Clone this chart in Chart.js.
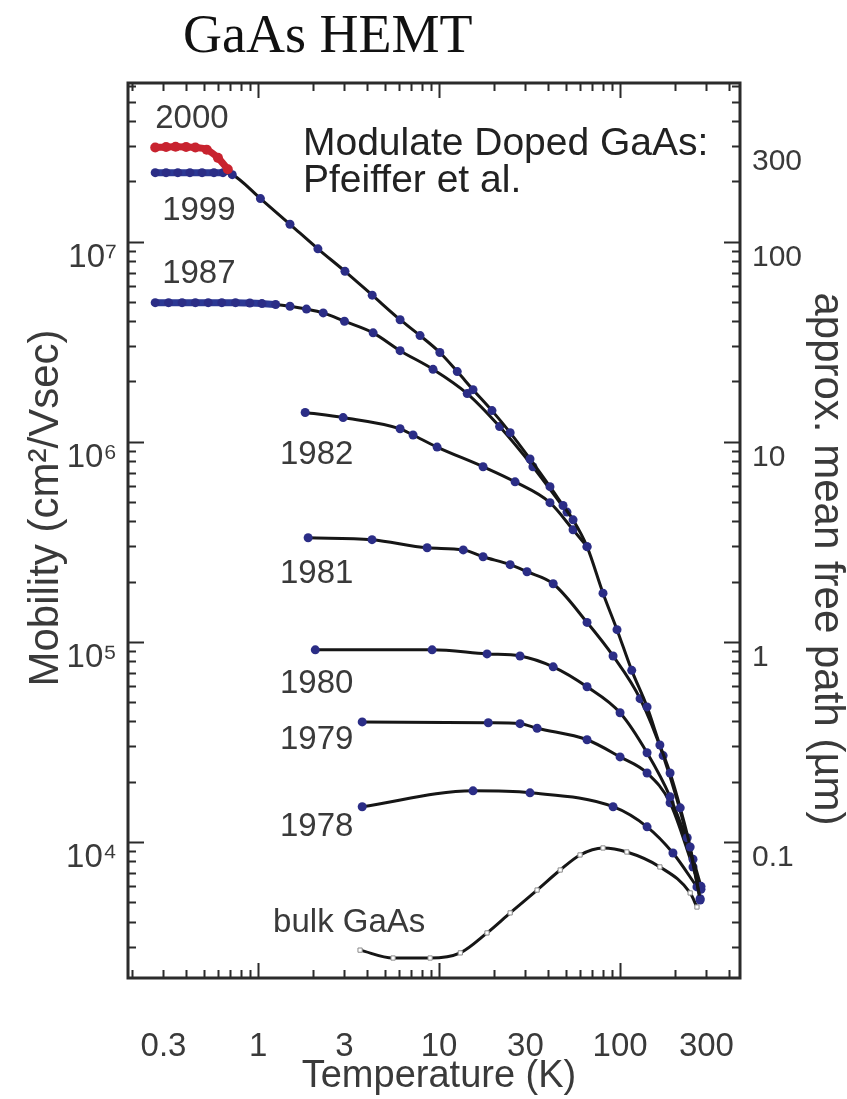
<!DOCTYPE html>
<html>
<head>
<meta charset="utf-8">
<title>GaAs HEMT mobility</title>
<script src="https://cdn.jsdelivr.net/npm/chart.js@4.4.1/dist/chart.umd.min.js"></script>
<style>
  html, body { margin: 0; padding: 0; background: #fff; }
  canvas { display: block; }
</style>
</head>
<body>
<canvas id="mobility" width="847" height="1099"></canvas>
<script>
// temperatures (K) and mobilities (cm^2/Vs) per sample generation
const t2000 = [0.27, 0.31, 0.35, 0.40, 0.45, 0.52, 0.60, 0.68];
const m2000 = [2.95e7, 2.97e7, 2.98e7, 2.97e7, 2.95e7, 2.88e7, 2.62e7, 2.3e7];

const t1999 = [0.27, 0.31, 0.36, 0.42, 0.49, 0.57, 0.64, 0.72, 1.03, 1.5, 2.14, 3.02, 4.27, 6.09, 7.85,
               10.1, 12.6, 15.4, 19.6, 24.7, 31.8, 41, 48.4, 55, 65.7, 80.5, 96.2, 116, 141, 166, 189, 215, 244, 277];
const m1999 = [2.21e7, 2.21e7, 2.21e7, 2.21e7, 2.21e7, 2.21e7, 2.21e7, 2.16e7, 1.64e7, 1.22e7, 9.2e6, 7.1e6, 5.4e6, 4.07e6, 3.39e6,
               2.79e6, 2.24e6, 1.82e6, 1.43e6, 1.11e6, 8.2e5, 5.96e5, 4.8e5, 4.07e5, 2.99e5, 1.75e5, 1.15e5, 7.2e4, 4.73e4, 3.05e4, 2.21e4, 1.48e4, 9.44e3, 5.13e3];

const t1987 = [0.27, 0.32, 0.38, 0.45, 0.53, 0.63, 0.75, 0.9, 1.05, 1.25, 1.5, 1.85, 2.29, 3.0, 4.32, 6.09, 9.26, 14.3, 21.6, 33, 50.9];
const m1987 = [4.95e6, 4.95e6, 4.95e6, 4.95e6, 4.95e6, 4.95e6, 4.95e6, 4.93e6, 4.9e6, 4.85e6, 4.75e6, 4.6e6, 4.4e6, 4.0e6, 3.5e6, 2.85e6, 2.3e6, 1.74e6, 1.19e6, 7.5e5, 4.45e5];

const t1982 = [1.82, 2.95, 6.09, 7.18, 9.75, 17.5, 26.3, 41, 55, 65.7];
const m1982 = [1.40e6, 1.32e6, 1.16e6, 1.08e6, 9.4e5, 7.5e5, 6.3e5, 4.96e5, 3.63e5, 2.99e5];

const t1981 = [1.89, 4.26, 8.59, 13.6, 17.5, 24.7, 30.6, 42.7, 65.7, 91.5, 129, 173, 235, 277];
const m1981 = [3.31e5, 3.24e5, 2.95e5, 2.88e5, 2.66e5, 2.43e5, 2.24e5, 1.95e5, 1.25e5, 8.5e4, 5.2e4, 2.7e4, 1.05e4, 5.2e3];

const t1980 = [2.07, 9.15, 18.4, 28, 42.7, 65.7, 100, 141, 189, 253, 280];
const m1980 = [9.12e4, 9.12e4, 8.7e4, 8.5e4, 7.5e4, 5.96e4, 4.42e4, 2.79e4, 1.68e4, 8.2e3, 6.0e3];

const t1979 = [3.76, 18.7, 28, 34.8, 65.7, 100, 141, 189, 253, 280];
const m1979 = [3.98e4, 3.94e4, 3.9e4, 3.7e4, 3.24e4, 2.66e4, 2.21e4, 1.57e4, 7.5e3, 5.8e3];

const t1978 = [3.76, 15.4, 31.8, 91.5, 141, 196, 266];
const m1978 = [1.5e4, 1.8e4, 1.76e4, 1.5e4, 1.19e4, 8.8e3, 5.96e3];

const tBulk = [3.66, 5.57, 8.92, 13.1, 18.4, 24.7, 34.8, 46.7, 60.1, 80.5, 109, 166, 244, 266];
const mBulk = [2.88e3, 2.63e3, 2.63e3, 2.79e3, 3.51e3, 4.42e3, 5.75e3, 7.24e3, 8.61e3, 9.33e3, 8.91e3, 7.5e3, 5.56e3, 4.73e3];

// labelled ticks
const tempTicks = [0.3, 1, 3, 10, 30, 100, 300];
const mobilityTicks = [1e4, 1e5, 1e6, 1e7];
const pathTicks = [0.1, 1, 10, 100, 300];

// curve captions, anchored in data units (left edge, vertical middle)
const captions = ['2000', '1999', '1987', '1982', '1981', '1980', '1979', '1978', 'bulk GaAs'];
const captionAt = [[0.27, 4.12e7], [0.295, 1.43e7], [0.295, 6.92e6], [1.32, 8.61e5], [1.32, 2.19e5],
                   [1.32, 6.17e4], [1.32, 3.24e4], [1.32, 1.19e4], [1.21, 3.94e3]];

const SANS = '"Liberation Sans", Arial, Helvetica, sans-serif';
const SERIF = '"Liberation Serif", "Times New Roman", serif';
const INK = '#161616';
const NAVY = '#2b2d86';
const BAND = '#2c3894';
const RED = '#c8232f';
const LABEL = '#3a3a3a';

const SUP = { '3': '\u00b3', '4': '\u2074', '5': '\u2075', '6': '\u2076', '7': '\u2077' };

function pairs(ts, ms) {
  return ts.map((t, i) => ({ x: t, y: ms[i] }));
}

function curve(label, ts, ms, extra) {
  return Object.assign({
    label,
    data: pairs(ts, ms),
    borderColor: INK,
    borderWidth: 3,
    cubicInterpolationMode: 'monotone',
    pointRadius: 4.5,
    pointHoverRadius: 4.5,
    pointBackgroundColor: NAVY,
    pointBorderColor: NAVY,
    pointBorderWidth: 0,
    fill: false,
    yAxisID: 'y'
  }, extra || {});
}

// low-temperature plateau drawn as a thick coloured band, rest as the black fit
function band(limit, colour) {
  return {
    borderColor: c => (c.p1.parsed.x <= limit ? colour : INK),
    borderWidth: c => (c.p1.parsed.x <= limit ? 7 : 3)
  };
}

const datasets = [
  curve('2000', t2000, m2000, { borderColor: RED, borderWidth: 7, pointBackgroundColor: RED, pointBorderColor: RED, pointRadius: 5 }),
  curve('1999', t1999, m1999, { segment: band(0.64, BAND) }),
  curve('1987', t1987, m1987, { segment: band(1.25, BAND) }),
  curve('1982', t1982, m1982),
  curve('1981', t1981, m1981),
  curve('1980', t1980, m1980),
  curve('1979', t1979, m1979),
  curve('1978', t1978, m1978),
  curve('bulk GaAs', tBulk, mBulk, {
    pointStyle: 'rect', pointRadius: 3, pointHoverRadius: 3,
    pointBackgroundColor: '#ffffff', pointBorderColor: '#8a8a8a', pointBorderWidth: 1
  })
];

function logTicks(lo, hi) {
  const out = [];
  for (let e = lo; e <= hi; e++) {
    for (let m = 1; m <= 9; m++) out.push({ v: m * Math.pow(10, e), major: m === 1 });
  }
  return out;
}

// box, plus inward ticks on all four sides
const frameTicks = {
  id: 'frameTicks',
  afterDatasetsDraw(chart) {
    const { ctx, chartArea: a, scales } = chart;
    const { x, y, y2 } = scales;
    ctx.save();
    ctx.strokeStyle = '#2b2b2b';
    ctx.lineWidth = 2;
    ctx.beginPath();
    logTicks(-1, 2).filter(t => t.v >= x.min && t.v <= x.max).forEach(t => {
      const px = Math.round(x.getPixelForValue(t.v)) + 0.5;
      const len = t.major ? 15 : 8;
      ctx.moveTo(px, a.bottom); ctx.lineTo(px, a.bottom - len);
      ctx.moveTo(px, a.top); ctx.lineTo(px, a.top + len);
    });
    logTicks(3, 7).filter(t => t.v >= y.min && t.v <= y.max).forEach(t => {
      const py = Math.round(y.getPixelForValue(t.v)) + 0.5;
      ctx.moveTo(a.left, py); ctx.lineTo(a.left + (t.major ? 16 : 8), py);
    });
    logTicks(-2, 2).filter(t => t.v >= y2.min && t.v <= y2.max).forEach(t => {
      const py = Math.round(y2.getPixelForValue(t.v)) + 0.5;
      ctx.moveTo(a.right, py); ctx.lineTo(a.right - (t.major ? 16 : 8), py);
    });
    ctx.stroke();
    ctx.lineWidth = 3;
    ctx.strokeRect(a.left, a.top, a.right - a.left, a.bottom - a.top);
    ctx.restore();
  }
};

// title, axis titles, curve captions and the source note
const textLayer = {
  id: 'textLayer',
  afterDraw(chart) {
    const { ctx, chartArea: a, scales: { x, y } } = chart;
    ctx.save();

    ctx.fillStyle = '#111';
    ctx.textAlign = 'left';
    ctx.textBaseline = 'alphabetic';
    ctx.font = '54px ' + SERIF;
    ctx.fillText('GaAs HEMT', 183, 52);

    ctx.fillStyle = '#222';
    ctx.font = '39px ' + SANS;
    const nx = x.getPixelForValue(1.77);
    const ny = y.getPixelForValue(2.72e7);
    ctx.fillText('Modulate Doped GaAs:', nx, ny);
    ctx.fillText('Pfeiffer et al.', nx, ny + 37);

    ctx.fillStyle = LABEL;
    ctx.font = '33px ' + SANS;
    ctx.textBaseline = 'middle';
    captions.forEach((txt, i) => {
      ctx.fillText(txt, x.getPixelForValue(captionAt[i][0]), y.getPixelForValue(captionAt[i][1]));
    });

    ctx.textBaseline = 'alphabetic';
    ctx.textAlign = 'center';
    ctx.font = '38px ' + SANS;
    ctx.fillText('Temperature (K)', (a.left + a.right) / 2 + 5, 1087);

    ctx.font = '42px ' + SANS;
    ctx.save();
    ctx.translate(58, 508);
    ctx.rotate(-Math.PI / 2);
    ctx.fillText('Mobility (cm\u00b2/Vsec)', 0, 0);
    ctx.restore();

    ctx.save();
    ctx.translate(815, 559);
    ctx.rotate(Math.PI / 2);
    ctx.fillText('approx. mean free path (\u00b5m)', 0, 0);
    ctx.restore();

    ctx.restore();
  }
};

const tickFont = { family: SANS, size: 33 };

new Chart(document.getElementById('mobility').getContext('2d'), {
  type: 'line',
  data: { datasets },
  options: {
    responsive: false,
    animation: false,
    events: [],
    layout: { padding: { top: 83, left: 0, right: 0, bottom: 0 } },
    plugins: {
      legend: { display: false },
      tooltip: { enabled: false }
    },
    scales: {
      x: {
        type: 'logarithmic',
        position: 'bottom',
        min: 0.191,
        max: 460,
        afterBuildTicks: s => { s.ticks = tempTicks.map(v => ({ value: v })); },
        afterFit: s => { s.height = 121; },
        grid: { display: false, drawTicks: false },
        border: { display: false },
        ticks: {
          autoSkip: false, maxRotation: 0, padding: 49,
          font: tickFont, color: LABEL,
          callback: v => String(v)
        }
      },
      y: {
        type: 'logarithmic',
        position: 'left',
        min: 2090,
        max: 6.2e7,
        afterBuildTicks: s => { s.ticks = mobilityTicks.map(v => ({ value: v })); },
        afterFit: s => { s.width = 128; },
        grid: { display: false, drawTicks: false },
        border: { display: false },
        ticks: {
          autoSkip: false, padding: 11, labelOffset: 16,
          font: tickFont, color: LABEL,
          callback: v => '10' + SUP[String(Math.round(Math.log10(v)))]
        }
      },
      y2: {
        type: 'logarithmic',
        position: 'right',
        min: 0.0209,
        max: 620,
        afterBuildTicks: s => { s.ticks = pathTicks.map(v => ({ value: v })); },
        afterFit: s => { s.width = 107; },
        grid: { display: false, drawTicks: false },
        border: { display: false },
        ticks: {
          autoSkip: false, padding: 12, labelOffset: 16,
          font: { family: SANS, size: 30 }, color: LABEL,
          callback: v => String(v)
        }
      }
    }
  },
  plugins: [frameTicks, textLayer]
});
</script>
</body>
</html>
